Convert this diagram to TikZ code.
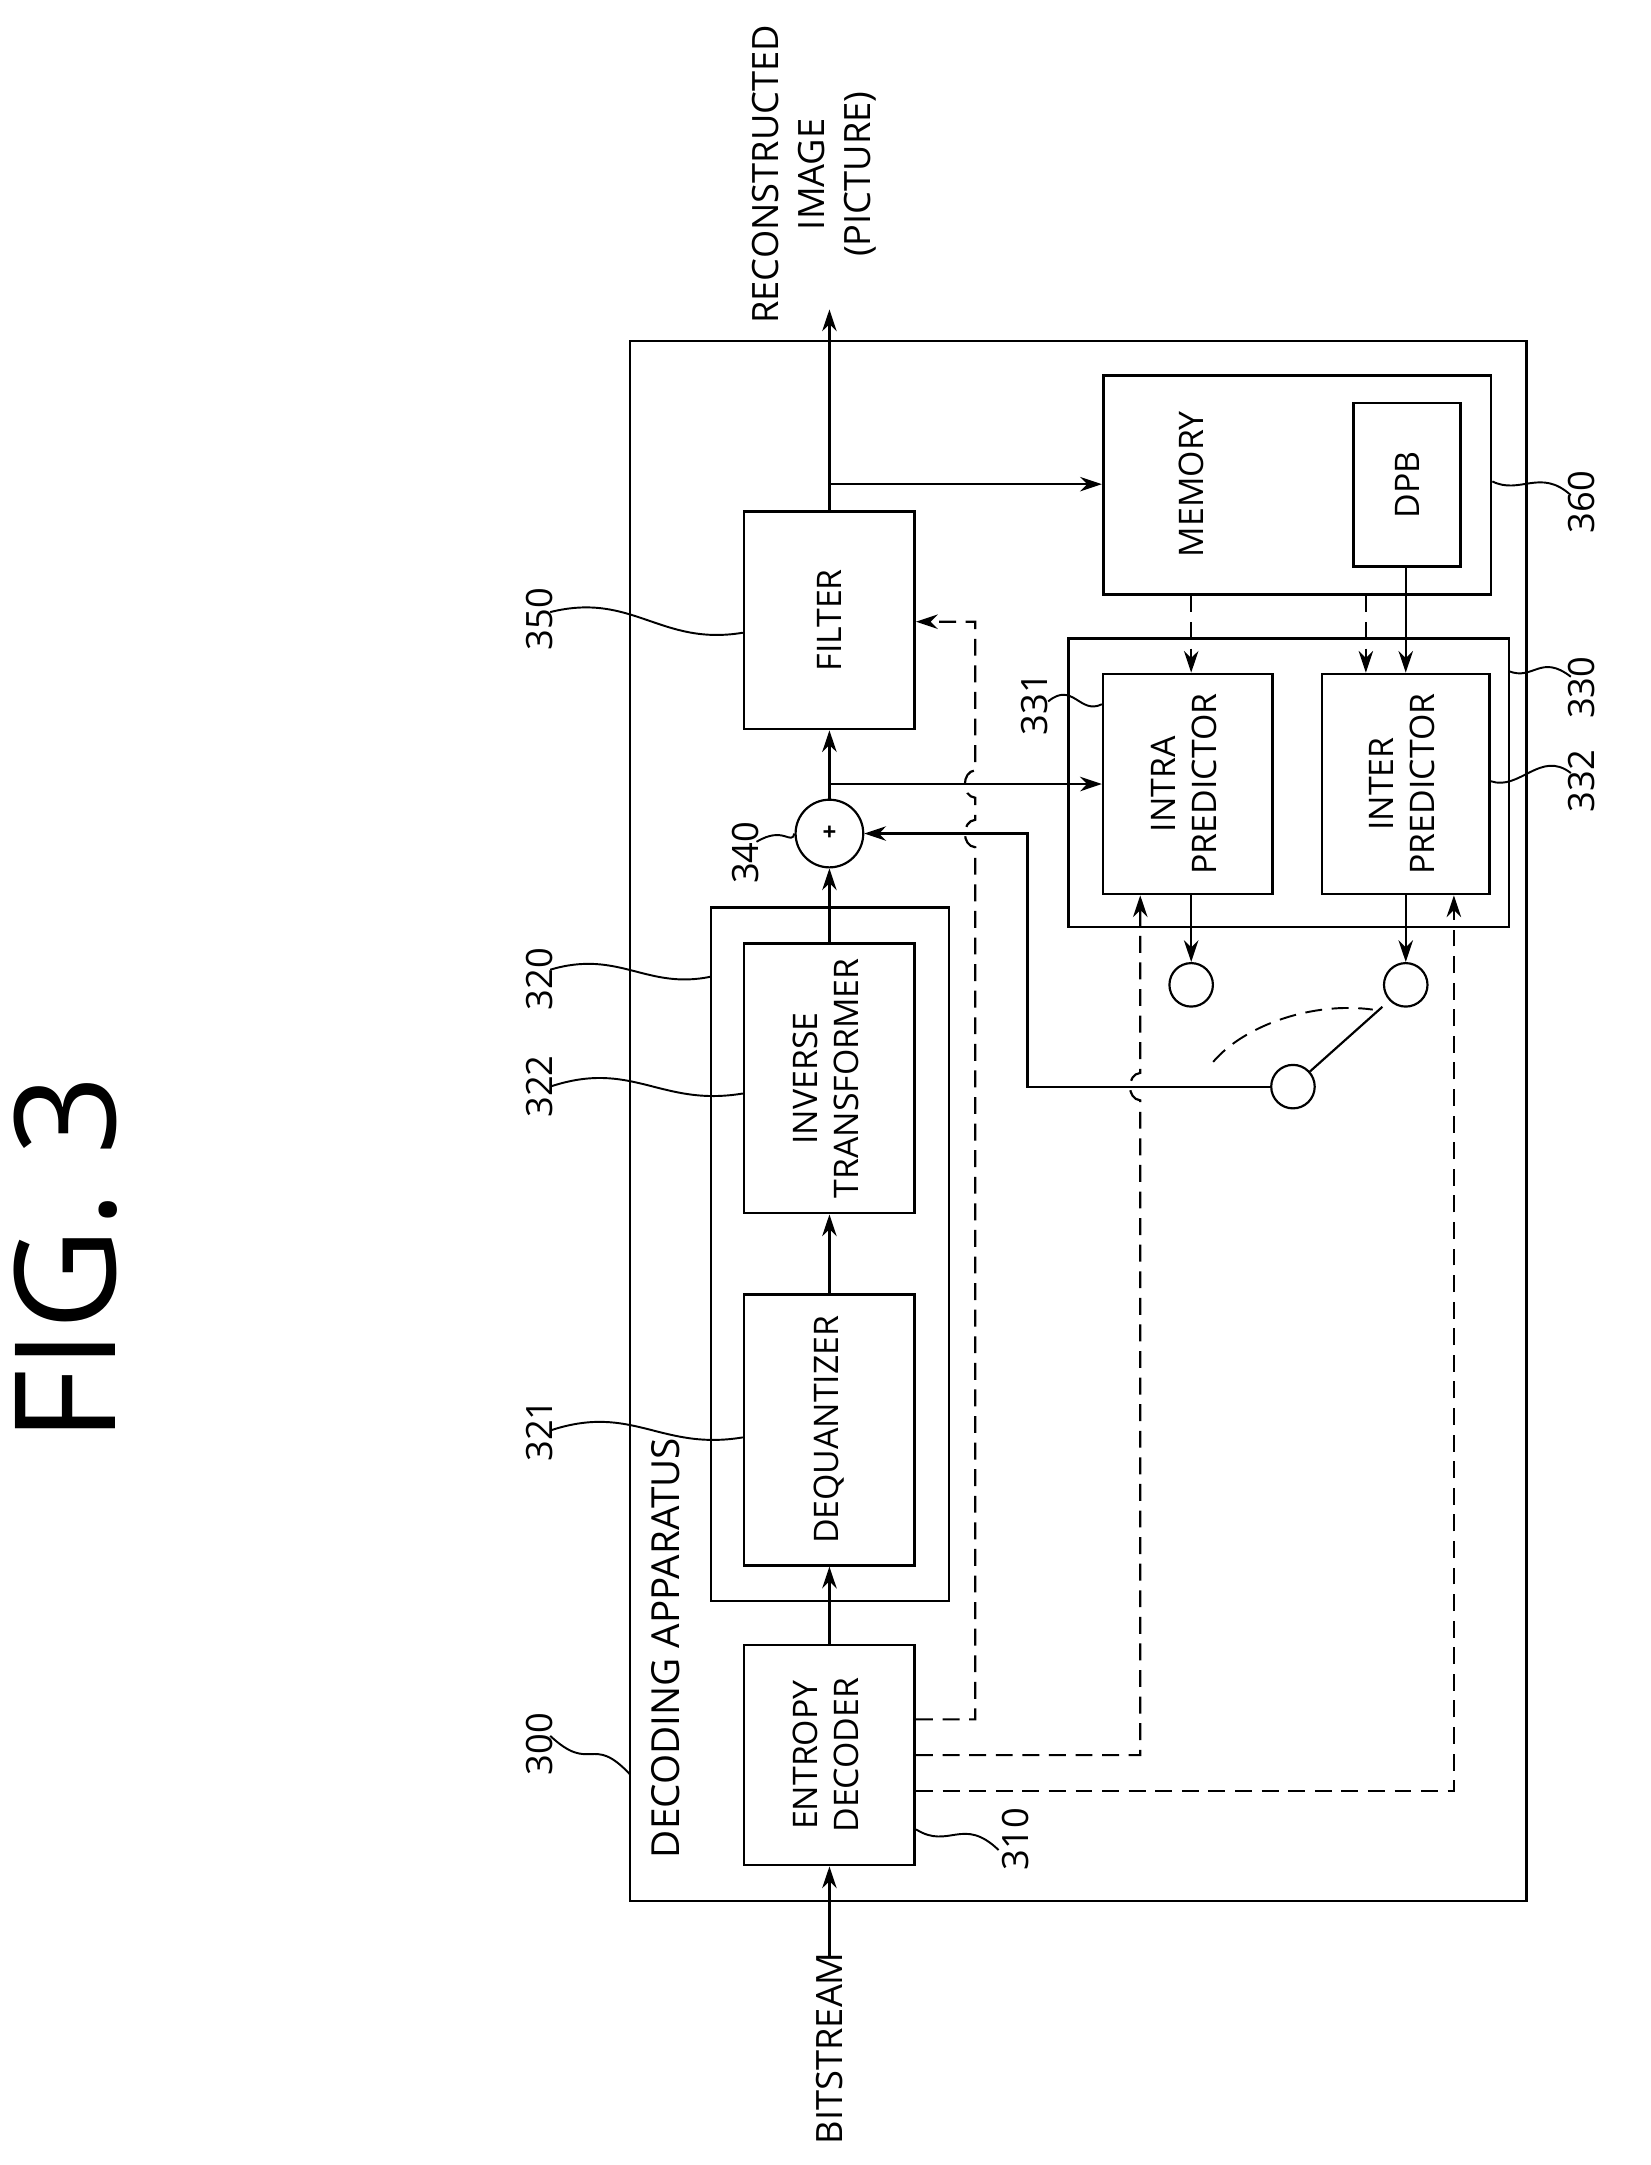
\documentclass[tikz,border=0pt]{standalone}
\usepackage{fontspec}
\setmainfont{Open Sans}
\usetikzlibrary{arrows.meta, positioning, calc}
\begin{document}
\begin{tikzpicture}[x=0.02cm, y=-0.02cm,
    % unrotated boxes, rotated text
    blk/.style={draw, line width=1.1pt, inner sep=0pt, font=\fontsize{14}{17}\selectfont, align=center},
    frame/.style={draw, line width=1.1pt},
    num/.style={font=\fontsize{15}{17}\selectfont, rotate=90},
    lead/.style={line width=0.8pt},
    con/.style={line width=0.9pt, -{Stealth[length=9pt, width=6pt]}},
    dsh/.style={con, dash pattern=on 7pt off 4pt},
    sw/.style={circle, draw, line width=0.9pt, minimum size=18pt, inner sep=0pt}
]
    \useasboundingbox (0,0) rectangle (1200,1574);

    % outer frames
    \draw[frame] (458,248) rectangle (1110,1382);
    \draw[frame] (517,660) rectangle (690,1164);
    \draw[frame] (777,464) rectangle (1097,674);
    \node[num, font=\fontsize{16}{18}\selectfont, anchor=west] (dec) at (484,1357) {DECODING APPARATUS};

    % blocks
    \node[blk, minimum width=2.48cm, minimum height=3.2cm] (ent) at (603,1276) {\rotatebox{90}{\begin{tabular}{c}ENTROPY\\DECODER\end{tabular}}};
    \node[blk, minimum width=2.48cm, minimum height=3.94cm] (deq) at (603,1039.5) {\rotatebox{90}{DEQUANTIZER}};
    \node[blk, minimum width=2.48cm, minimum height=3.92cm] (itr) at (603,784) {\rotatebox{90}{\begin{tabular}{c}INVERSE\\TRANSFORMER\end{tabular}}};
    \node[circle, draw, line width=0.9pt, minimum size=28pt, inner sep=0pt] (add) at (603,606) {\textbf{+}};
    \node[blk, minimum width=2.48cm, minimum height=3.16cm] (flt) at (603,451) {\rotatebox{90}{FILTER}};
    \node[blk, minimum width=5.64cm, minimum height=3.18cm] (mem) at (943,352.5) {};
    \node[num, font=\fontsize{14}{17}\selectfont] (memt) at (866,352) {MEMORY};
    \node[blk, minimum width=1.56cm, minimum height=2.38cm] (dpb) at (1023,352.5) {\rotatebox{90}{DPB}};
    \node[blk, minimum width=2.46cm, minimum height=3.2cm] (intra) at (863.5,570) {\rotatebox{90}{\begin{tabular}{c}INTRA\\PREDICTOR\end{tabular}}};
    \node[blk, minimum width=2.44cm, minimum height=3.2cm] (inter) at (1022,570) {\rotatebox{90}{\begin{tabular}{c}INTER\\PREDICTOR\end{tabular}}};

    % switch
    \node[sw] (t1) at (866,716) {};
    \node[sw] (t2) at (1022,716) {};
    \node[sw] (piv) at (940,790) {};
    \draw[line width=0.9pt] (piv) -- (1005,732);
    \draw[line width=0.8pt, dash pattern=on 7pt off 4pt] (882,772) .. controls (905,745) and (955,728) .. (998,734);

    % texts outside
    \node[num, font=\fontsize{58}{60}\selectfont] (fig) at (48,915) {FIG. 3};
    \node[num, anchor=west] (bit) at (603,1565) {BITSTREAM};
    \node[num, align=center, anchor=east, font=\fontsize{15}{19}\selectfont] (rec) at (592,12) {RECONSTRUCTED\\IMAGE\\(PICTURE)};
    \coordinate (out) at (603,225);
    \coordinate (bin) at (603,1422);

    % main path
    \draw[con] (bin) -- (ent);
    \draw[con] (ent) -- (deq);
    \draw[con] (deq) -- (itr);
    \draw[con] (itr) -- (add);
    \draw[con] (add) -- (flt);
    \draw[con] (flt) -- (out);
    \draw[con] (603,352) -- (mem.west |- 603,352);
    \draw[con] (603,570) -- (intra.west |- 603,570);
    \draw[con, dash pattern=on 7pt off 4pt] (mem.south -| 866,0) -- (intra.north -| 866,0);
    \draw[con, dash pattern=on 7pt off 4pt] (mem.south -| 993,0) -- (inter.north -| 993,0);
    \draw[con] (dpb.south -| 1022,0) -- (inter.north -| 1022,0);
    \draw[con] (intra.south -| 866,0) -- (t1);
    \draw[con] (inter.south -| 1022,0) -- (t2);
    \draw[con] (piv) -- (747,790) -- (747,606) -- (add);

    % dashed control lines with hops
    \draw[dsh] (ent.east |- 0,1250) -- (709,1250) -- (709,616) .. controls (699,615) and (699,597) .. (709,596)
        -- (709,580) .. controls (699,579) and (699,561) .. (709,560) -- (709,452) -- (flt.east |- 0,452);
    \draw[dsh] (ent.east |- 0,1276) -- (829,1276) -- (829,800) .. controls (819,799) and (819,781) .. (829,780) -- (intra.south -| 829,0);
    \draw[dsh] (ent.east |- 0,1302) -- (1057,1302) -- (inter.south -| 1057,0);

    % reference numbers
    \node[num] (n300) at (392,1268) {300};
    \draw[lead] (400,1262) .. controls (430,1290) and (430,1260) .. (458,1290);
    \node[num] (n310) at (738,1337) {310};
    \draw[lead] (726,1345) .. controls (700,1320) and (690,1345) .. (ent.east |- 0,1330);
    \node[num] (n321) at (392,1040) {321};
    \draw[lead] (400,1040) .. controls (460,1020) and (480,1055) .. (deq.west |- 0,1045);
    \node[num] (n322) at (392,790) {322};
    \draw[lead] (400,790) .. controls (460,770) and (480,805) .. (itr.west |- 0,795);
    \node[num] (n320) at (392,712) {320};
    \draw[lead] (400,705) .. controls (450,690) and (470,720) .. (517,710);
    \node[num] (n340) at (542,620) {340};
    \draw[lead] (550,612) .. controls (570,600) and (575,615) .. (add.west);
    \node[num] (n350) at (392,450) {350};
    \draw[lead] (400,445) .. controls (460,430) and (480,470) .. (flt.west |- 0,460);
    \node[num] (n331) at (752,512) {331};
    \draw[lead] (762,510) .. controls (780,495) and (785,520) .. (intra.west |- 0,512);
    \node[num] (n330) at (1150,500) {330};
    \draw[lead] (1142,492) .. controls (1120,475) and (1115,495) .. (1097,488);
    \node[num] (n332) at (1150,568) {332};
    \draw[lead] (1142,562) .. controls (1120,545) and (1105,575) .. (inter.east |- 0,568);
    \node[num] (n360) at (1150,365) {360};
    \draw[lead] (1142,360) .. controls (1120,340) and (1105,360) .. (mem.east |- 0,350);
\end{tikzpicture}
\end{document}
